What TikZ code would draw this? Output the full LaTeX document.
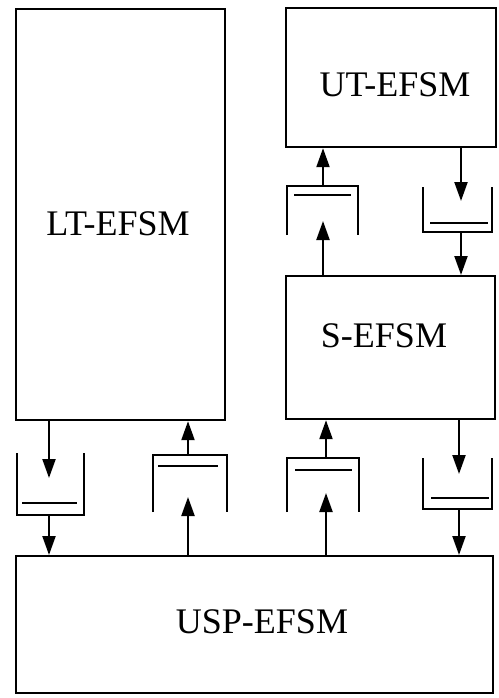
\documentclass[tikz,border=0pt]{standalone}
\usepackage{fontspec}
\setmainfont{Liberation Serif}
\usetikzlibrary{arrows.meta}
\begin{document}
\begin{tikzpicture}[x=1pt,y=-1pt,
  box/.style={draw,line width=2.2pt,anchor=north west,inner sep=0pt},
  lbl/.style={font=\fontsize{36}{42}\selectfont,inner sep=0pt},
  arr/.style={line width=2.2pt,-{Triangle[length=19pt,width=13pt]}},
  cup/.style={line width=2.2pt},
  bar/.style={line width=2.4pt}]
\useasboundingbox (0,0) rectangle (498,698);
% boxes
\node[box,minimum width=209pt,minimum height=411pt] (LT) at (15,8) {};
\node[box,minimum width=210pt,minimum height=139pt] (UT) at (285,7) {};
\node[box,minimum width=209pt,minimum height=143pt] (S) at (285,275) {};
\node[box,minimum width=477pt,minimum height=137pt] (USP) at (15,555) {};
\node[lbl] (tLT) at (118,223.5) {LT-EFSM};
\node[lbl] (tUT) at (395,84.5) {UT-EFSM};
\node[lbl] (tS) at (384,336) {S-EFSM};
\node[lbl] (tUSP) at (262,621.5) {USP-EFSM};
% queue 1: LT -> USP (down)
\draw[cup] (17,453) -- (17,515) -- (84,515) -- (84,453);
\draw[bar] (22,503) -- (77,503);
\coordinate (q1tip) at (49,478);
\coordinate (q1out) at (49,515);
\draw[arr] (LT.south -| q1tip) -- (q1tip);
\draw[arr] (q1out) -- (USP.north -| q1out);
% queue 2: USP -> LT (up)
\draw[cup] (153,512) -- (153,455) -- (227,455) -- (227,512);
\draw[bar] (158,466) -- (218,466);
\coordinate (q2tip) at (188,497);
\coordinate (q2out) at (188,455);
\draw[arr] (USP.north -| q2tip) -- (q2tip);
\draw[arr] (q2out) -- (LT.south -| q2out);
% queue 3: USP -> S (up)
\draw[cup] (287,512) -- (287,458) -- (359,458) -- (359,512);
\draw[bar] (295,470) -- (352,470);
\coordinate (q3tip) at (326,493);
\coordinate (q3out) at (326,458);
\draw[arr] (USP.north -| q3tip) -- (q3tip);
\draw[arr] (q3out) -- (S.south -| q3out);
% queue 4: S -> USP (down)
\draw[cup] (423,458) -- (423,509) -- (492,509) -- (492,458);
\draw[bar] (431,498) -- (489,498);
\coordinate (q4tip) at (459,474);
\coordinate (q4out) at (459,509);
\draw[arr] (S.south -| q4tip) -- (q4tip);
\draw[arr] (q4out) -- (USP.north -| q4out);
% queue 5: S -> UT (up)
\draw[cup] (287,235) -- (287,186) -- (358,186) -- (358,235);
\draw[bar] (294,195) -- (351,195);
\coordinate (q5tip) at (323,221);
\coordinate (q5out) at (323,186);
\draw[arr] (S.north -| q5tip) -- (q5tip);
\draw[arr] (q5out) -- (UT.south -| q5out);
% queue 6: UT -> S (down)
\draw[cup] (423,187) -- (423,232) -- (492,232) -- (492,187);
\draw[bar] (430,223) -- (488,223);
\coordinate (q6tip) at (461,201);
\coordinate (q6out) at (461,232);
\draw[arr] (UT.south -| q6tip) -- (q6tip);
\draw[arr] (q6out) -- (S.north -| q6out);
\end{tikzpicture}
\end{document}
